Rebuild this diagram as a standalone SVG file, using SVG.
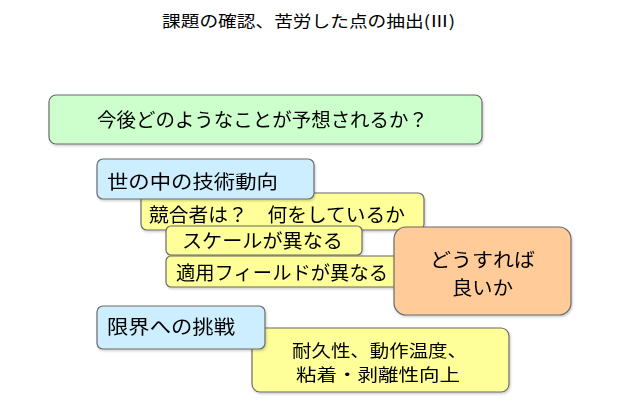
<svg xmlns="http://www.w3.org/2000/svg" width="617" height="402" viewBox="0 0 617 402">
<style>
.box{stroke:#6b6b6b;stroke-width:1.2}
.g{fill:#ccffcc}.b{fill:#cdeeff}.y{fill:#ffff99}.o{fill:#ffcc99}
text{font-family:"Noto Sans CJK JP","Noto Sans",sans-serif;fill:#000;font-size:19px}
.t{font-size:16px}
.s{font-size:17px}
</style>
<defs>
<filter id="sh" x="-5%" y="-5%" width="110%" height="120%">
<feDropShadow dx="1" dy="1.5" stdDeviation="1" flood-color="#000" flood-opacity="0.2"/>
</filter>
</defs>
<text class="t" x="162" y="27" textLength="293" lengthAdjust="spacingAndGlyphs">課題の確認、苦労した点の抽出(Ⅲ)</text>
<g id="connectors"/>
<g id="q" filter="url(#sh)"><rect class="box g" x="49" y="95" width="433" height="49" rx="7"/><text x="97" y="127" textLength="331" lengthAdjust="spacingAndGlyphs">今後どのようなことが予想されるか？</text></g>
<g id="y1" filter="url(#sh)"><rect class="box y" x="141" y="193" width="283" height="37" rx="6"/><text x="149" y="222" textLength="256" lengthAdjust="spacingAndGlyphs">競合者は？　何をしているか</text></g>
<g id="b1" filter="url(#sh)"><rect class="box b" x="97" y="159" width="217" height="40" rx="6"/><text x="107" y="189" textLength="171" lengthAdjust="spacingAndGlyphs">世の中の技術動向</text></g>
<g id="y2" filter="url(#sh)"><rect class="box y" x="166" y="226" width="196" height="29" rx="5"/><text x="182" y="248" textLength="161" lengthAdjust="spacingAndGlyphs">スケールが異なる</text></g>
<g id="y3" filter="url(#sh)"><rect class="box y" x="166" y="256" width="240" height="31" rx="5"/><text x="176" y="280" textLength="212" lengthAdjust="spacingAndGlyphs">適用フィールドが異なる</text></g>
<g id="o" filter="url(#sh)"><rect class="box o" x="394" y="227" width="177" height="88" rx="12"/><text x="430" y="267" textLength="105" lengthAdjust="spacingAndGlyphs">どうすれば</text><text x="452" y="295" textLength="61" lengthAdjust="spacingAndGlyphs">良いか</text></g>
<g id="y4" filter="url(#sh)"><rect class="box y" x="252" y="328" width="257" height="64" rx="8"/><text class="s" x="292" y="357" textLength="175" lengthAdjust="spacingAndGlyphs">耐久性、動作温度、</text><text class="s" x="296" y="381" textLength="164" lengthAdjust="spacingAndGlyphs">粘着・剥離性向上</text></g>
<g id="b2" filter="url(#sh)"><rect class="box b" x="97" y="306" width="168" height="43" rx="6"/><text x="107" y="334" textLength="128" lengthAdjust="spacingAndGlyphs">限界への挑戦</text></g>
</svg>
